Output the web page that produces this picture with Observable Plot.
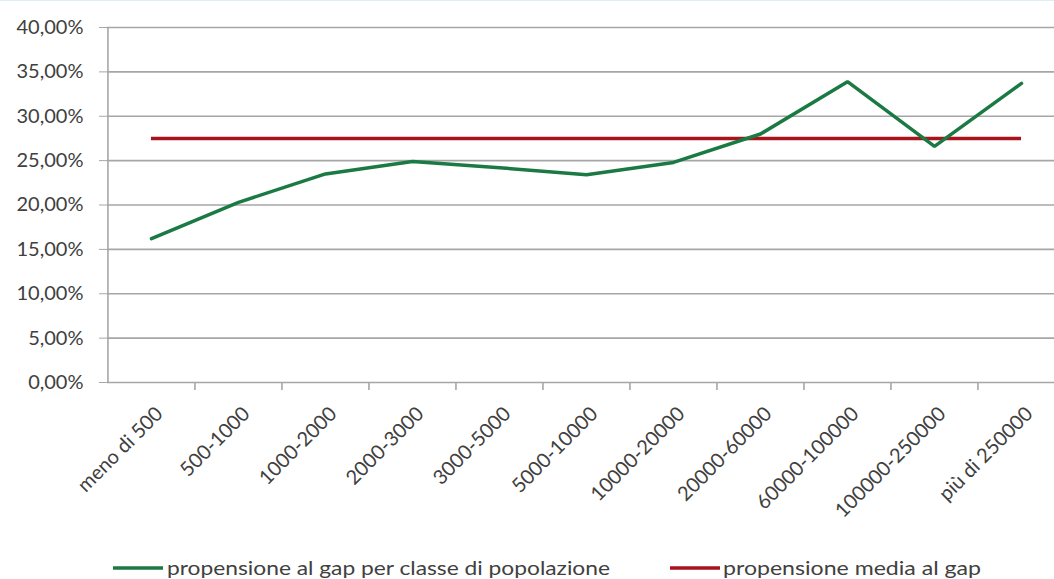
<!DOCTYPE html>
<html>
<head>
<meta charset="utf-8">
<script src="https://cdn.jsdelivr.net/npm/d3@7"></script>
<script src="https://cdn.jsdelivr.net/npm/@observablehq/plot@0.6"></script>
<style>
  html, body { margin: 0; padding: 0; background: #fff; overflow: hidden; }
  body { width: 1054px; height: 579px; position: relative; font-family: Lato, "Liberation Sans", sans-serif; border-top: 1px solid #dceff3; box-sizing: border-box; }
  #chart { position: absolute; left: 0; top: 0; }
  #legend { position: absolute; left: 0; top: 545px; }
</style>
</head>
<body>
<div id="chart"></div>
<div id="legend"></div>
<script>
const categories = ["meno di 500", "500-1000", "1000-2000", "2000-3000", "3000-5000", "5000-10000", "10000-20000", "20000-60000", "60000-100000", "100000-250000", "più di 250000"];
const propensione = [16.2, 20.3, 23.5, 24.9, 24.2, 23.4, 24.8, 28.0, 33.9, 26.6, 33.7];
const propensioneMedia = 27.5;
const yTicks = [0, 5, 10, 15, 20, 25, 30, 35, 40];
const seriesNames = ["propensione al gap per classe di popolazione", "propensione media al gap"];
const seriesColors = ["#1b7a43", "#a8141c"];

const rows = categories.map((c, i) => ({classe: c, valore: propensione[i]}));
const fmt = d => d.toFixed(2).replace(".", ",") + "%";
const half = (1021.5 - 150.5) / 10 / 2;

const chart = Plot.plot({
  width: 1054,
  height: 545,
  marginTop: 26,
  marginBottom: 164,
  marginLeft: 107,
  marginRight: 0,
  style: {fontFamily: "Lato, 'Liberation Sans', sans-serif", color: "#404040", background: "transparent"},
  x: {type: "point", domain: categories, range: [150.5, 1021.5], padding: 0, axis: null},
  y: {domain: [0, 40], axis: null},
  marks: [
    Plot.ruleY(yTicks, {stroke: "#a6a6a6", strokeWidth: 1.6}),
    Plot.ruleX([categories[0]], {x: d => d, y1: 0, y2: 40, dx: -half, stroke: "#a6a6a6", strokeWidth: 1.6}),
    Plot.ruleX(categories.slice(1), {x: d => d, y1: 0, y2: -0.9, dx: -half, stroke: "#a6a6a6", strokeWidth: 1.6}),
    Plot.axisY(yTicks, {tickSize: 8, tickPadding: 16, tickFormat: fmt, stroke: "#a6a6a6", fill: "#404040", fontSize: 20, label: null}),
    Plot.text(categories, {x: d => d, y: 0, dx: 8, dy: 28, rotate: -45, textAnchor: "end", fontSize: 20, fill: "#404040"}),
    Plot.ruleY([propensioneMedia], {y: d => d, x1: () => categories[0], x2: () => categories[categories.length - 1], stroke: seriesColors[1], strokeWidth: 3.5}),
    Plot.line(rows, {x: "classe", y: "valore", stroke: seriesColors[0], strokeWidth: 3.5, strokeLinejoin: "miter"})
  ]
});
document.getElementById("chart").appendChild(chart);

// legend
const ns = "http://www.w3.org/2000/svg";
const lsvg = document.createElementNS(ns, "svg");
lsvg.setAttribute("width", 1054);
lsvg.setAttribute("height", 34);
const items = [
  {x1: 113, x2: 163, tx: 167, len: 443},
  {x1: 670, x2: 720, tx: 723, len: 258}
];
items.forEach((it, i) => {
  const l = document.createElementNS(ns, "line");
  l.setAttribute("x1", it.x1); l.setAttribute("x2", it.x2);
  l.setAttribute("y1", 22); l.setAttribute("y2", 22);
  l.setAttribute("stroke", seriesColors[i]); l.setAttribute("stroke-width", 3.5);
  lsvg.appendChild(l);
  const t = document.createElementNS(ns, "text");
  t.setAttribute("x", it.tx); t.setAttribute("y", 22);
  t.setAttribute("dy", "0.33em");
  t.setAttribute("font-size", 20);
  t.setAttribute("fill", "#404040");
  t.setAttribute("font-family", "Lato, 'Liberation Sans', sans-serif");
  t.setAttribute("textLength", it.len);
  t.setAttribute("lengthAdjust", "spacingAndGlyphs");
  t.textContent = seriesNames[i];
  lsvg.appendChild(t);
});
document.getElementById("legend").appendChild(lsvg);
</script>
</body>
</html>
